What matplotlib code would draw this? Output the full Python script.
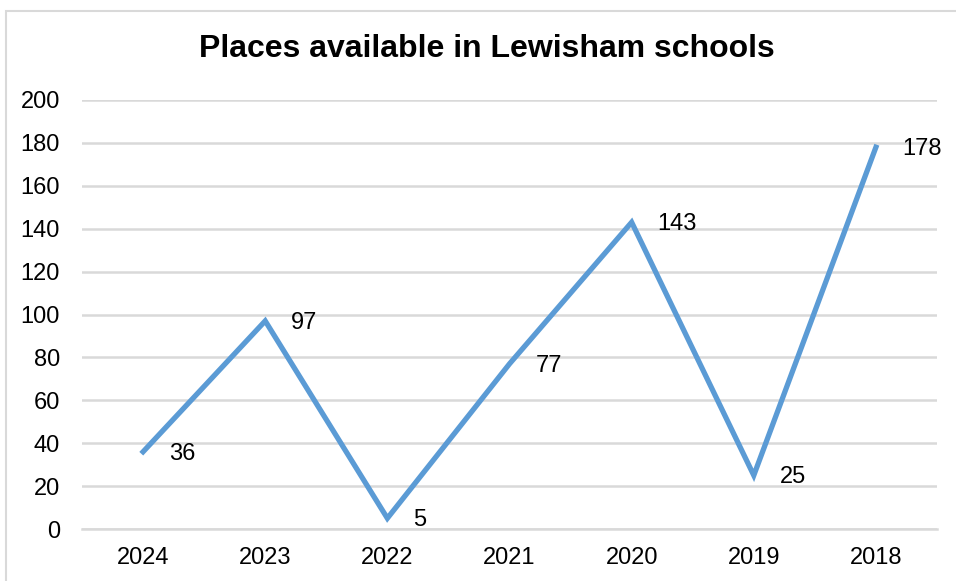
import matplotlib.pyplot as plt
from matplotlib.patches import Rectangle

# datos
years = ['2024', '2023', '2022', '2021', '2020', '2019', '2018']
places = [36, 97, 5, 77, 143, 25, 178]
titulo = 'Places available in Lewisham schools'

plt.rcParams['font.family'] = ['Liberation Sans', 'DejaVu Sans']

fig = plt.figure(figsize=(9.56, 5.81), dpi=100)
ax = fig.add_axes([82/956, 52/581, (937-82)/956, (529-100)/581])

# marco gris del grafico
fig.patches.append(Rectangle((6/956, -0.05), 1.2, (581-11)/581 + 0.05,
                             transform=fig.transFigure, fill=False,
                             edgecolor='#d9d9d9', linewidth=1.5))

xs = range(len(years))
ax.plot(xs, places, color='#5b9bd5', linewidth=3.8, solid_joinstyle='miter', zorder=3)

for x, v in zip(xs, places):
  ax.annotate(str(v), (x, v), xytext=(26, -2), textcoords='offset pixels',
              ha='left', va='center', fontsize=17, color='black')

ax.set_xlim(-0.5, len(years) - 0.5)
ax.set_ylim(0, 200)
ax.set_yticks(range(0, 201, 20))
ax.set_xticks(list(xs))
ax.set_xticklabels(years)
ax.tick_params(axis='both', length=0, labelsize=17)
ax.tick_params(axis='y', pad=16)
ax.tick_params(axis='x', pad=13)

ax.grid(axis='y', color='#d9d9d9', linewidth=1.8)
ax.set_axisbelow(True)
for s in ['left', 'top', 'right']:
  ax.spines[s].set_visible(False)
ax.spines['bottom'].set_color('#d9d9d9')
ax.spines['bottom'].set_linewidth(1.8)

fig.text(487/956, 1 - 49/581, titulo, ha='center', va='center',
         fontsize=23, fontweight='bold')

plt.savefig('out.png', dpi=100)
